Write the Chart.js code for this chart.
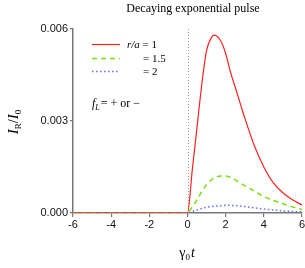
<!DOCTYPE html>
<html>
<head>
<meta charset="utf-8">
<script src="https://cdn.jsdelivr.net/npm/chart.js@4"></script>
<style>
html,body{margin:0;padding:0;background:#fff;}
#wrap{position:relative;width:305px;height:268px;}
</style>
</head>
<body>
<div id="wrap"><canvas id="c" width="305" height="268"></canvas></div>
<script>
const chartTitle = "Decaying exponential pulse";
const tValues = [-6, 0, 0.25, 0.5, 0.75, 1, 1.25, 1.4, 1.75, 2, 2.25, 2.5, 2.75, 3, 3.5, 4, 4.5, 5, 5.5, 6];
const seriesR1 = [0, 0, 0.0014, 0.0028, 0.0042, 0.0053, 0.00572, 0.0058, 0.0056, 0.0052, 0.0046, 0.0041, 0.0036, 0.0031, 0.0022, 0.0015, 0.00098, 0.00066, 0.00043, 0.00026];
const seriesR15 = [0, 0, 0.0002, 0.00043, 0.0007, 0.00093, 0.00108, 0.00115, 0.00121, 0.00121, 0.00116, 0.00108, 0.00098, 0.00089, 0.00071, 0.00054, 0.00041, 0.0003, 0.0002, 0.00011];
const seriesR2 = [0, 0, 0.00005, 0.0001, 0.00015, 0.00019, 0.00021, 0.00022, 0.00024, 0.00025, 0.00025, 0.00024, 0.00023, 0.00021, 0.00017, 0.00013, 0.0001, 0.00007, 0.00005, 0.00004];
const legendLabels = ["= 1", "= 1.5", "= 2"];
const xTicks = [-6, -4, -2, 0, 2, 4, 6];
const yTicks = [0, 0.003, 0.006];

const toPts = arr => tValues.map((t, i) => ({x: t, y: arr[i]}));

const serif = '"Liberation Serif", "Times New Roman", serif';
const sans = '"Liberation Sans", Arial, sans-serif';

const overlay = {
  id: 'overlay',
  beforeDatasetsDraw(chart) {
    const ctx = chart.ctx, a = chart.chartArea, xs = chart.scales.x;
    const x0 = xs.getPixelForValue(0);
    ctx.save();
    ctx.strokeStyle = '#999';
    ctx.lineWidth = 1;
    ctx.setLineDash([1, 2]);
    ctx.beginPath();
    ctx.moveTo(Math.round(x0) + 0.5, a.top);
    ctx.lineTo(Math.round(x0) + 0.5, a.bottom);
    ctx.stroke();
    ctx.restore();
  },
  afterDraw(chart) {
    const ctx = chart.ctx;
    ctx.save();
    ctx.fillStyle = '#000';
    ctx.textBaseline = 'alphabetic';
    // title
    ctx.font = '12px ' + serif;
    ctx.textAlign = 'center';
    ctx.fillText(chartTitle, 193, 12);
    // legend
    const ds = chart.data.datasets;
    const ly = [44, 58, 71];
    ds.forEach((d, i) => {
      ctx.save();
      ctx.strokeStyle = d.borderColor;
      ctx.lineWidth = d.borderWidth;
      ctx.setLineDash(d.borderDash || []);
      ctx.beginPath();
      ctx.moveTo(92, ly[i] + 0.5);
      ctx.lineTo(120, ly[i] + 0.5);
      ctx.stroke();
      ctx.restore();
    });
    ctx.textAlign = 'left';
    ctx.font = 'italic 11px ' + serif;
    ctx.fillText('r/a', 127, 48);
    let w = ctx.measureText('r/a ').width;
    ctx.font = '11px ' + serif;
    ctx.fillText(legendLabels[0], 127 + w, 48);
    ctx.fillText(legendLabels[1], 143, 62);
    ctx.fillText(legendLabels[2], 143, 75);
    // f_L annotation
    let x = 92, y = 107;
    ctx.font = 'italic 12px ' + serif;
    ctx.fillText('f', x, y);
    x += ctx.measureText('f').width;
    ctx.font = 'italic 8px ' + serif;
    ctx.fillText('L', x, y + 3);
    x += ctx.measureText('L').width + 1;
    ctx.font = '12px ' + serif;
    ctx.fillText('= + or \u2212', x, y);
    // x-axis title gamma_0 t
    ctx.font = '14px ' + serif;
    const gw = ctx.measureText('\u03b3').width;
    ctx.font = '9px ' + serif;
    const zw = ctx.measureText('0').width;
    ctx.font = 'italic 14px ' + serif;
    const tw = ctx.measureText('t').width;
    let sx = 187 - (gw + zw + tw + 1) / 2;
    ctx.font = '14px ' + serif;
    ctx.fillText('\u03b3', sx, 257);
    sx += gw;
    ctx.font = '9px ' + serif;
    ctx.fillText('0', sx, 260);
    sx += zw + 1;
    ctx.font = 'italic 14px ' + serif;
    ctx.fillText('t', sx, 257);
    // y-axis title I_R / I_0 rotated
    ctx.translate(18, 122);
    ctx.rotate(-Math.PI / 2);
    const parts = [
      ['italic 15px ' + serif, 'I', 0],
      ['9px ' + serif, 'R', 3],
      ['14px ' + serif, '/', 0],
      ['italic 15px ' + serif, 'I', 0],
      ['9px ' + serif, '0', 3]
    ];
    let total = 0;
    parts.forEach(p => { ctx.font = p[0]; total += ctx.measureText(p[1]).width; });
    let px = -total / 2;
    parts.forEach(p => {
      ctx.font = p[0];
      ctx.fillText(p[1], px, p[2]);
      px += ctx.measureText(p[1]).width;
    });
    ctx.restore();
  }
};

new Chart(document.getElementById('c'), {
  type: 'line',
  data: {
    datasets: [
      {data: toPts(seriesR1), borderColor: '#ff2020', borderWidth: 1.2, borderDash: []},
      {data: toPts(seriesR15), borderColor: '#77e011', borderWidth: 1.5, borderDash: [5, 4]},
      {data: toPts(seriesR2), borderColor: '#6a6aff', borderWidth: 1.5, borderDash: [1.5, 2.5]}
    ]
  },
  options: {
    responsive: false,
    animation: false,
    events: [],
    layout: {padding: {left: 0, right: 3, top: 29, bottom: 0}},
    elements: {
      point: {radius: 0},
      line: {cubicInterpolationMode: 'monotone', fill: false}
    },
    plugins: {legend: {display: false}, tooltip: {enabled: false}, title: {display: false}},
    scales: {
      x: {
        type: 'linear', min: -6, max: 6,
        afterFit(s) { s.height = 55; s.paddingLeft = 0; s.paddingRight = 0; },
        afterBuildTicks(s) { s.ticks = xTicks.map(v => ({value: v})); },
        ticks: {font: {family: sans, size: 11}, color: '#111', padding: 1, maxRotation: 0, autoSkip: false},
        grid: {drawOnChartArea: false, drawTicks: true, tickLength: 4, color: '#777', lineWidth: 1.2},
        border: {display: true, color: '#777', width: 1.5}
      },
      y: {
        type: 'linear', min: 0, max: 0.006,
        afterFit(s) { s.width = 73; s.paddingTop = 0; s.paddingBottom = 0; },
        afterBuildTicks(s) { s.ticks = yTicks.map(v => ({value: v})); },
        ticks: {font: {family: sans, size: 11}, color: '#111', padding: 2, callback: v => v.toFixed(3)},
        grid: {drawOnChartArea: false, drawTicks: true, tickLength: 3, color: '#777', lineWidth: 1.2},
        border: {display: true, color: '#777', width: 1.5}
      }
    }
  },
  plugins: [overlay]
});
</script>
</body>
</html>
